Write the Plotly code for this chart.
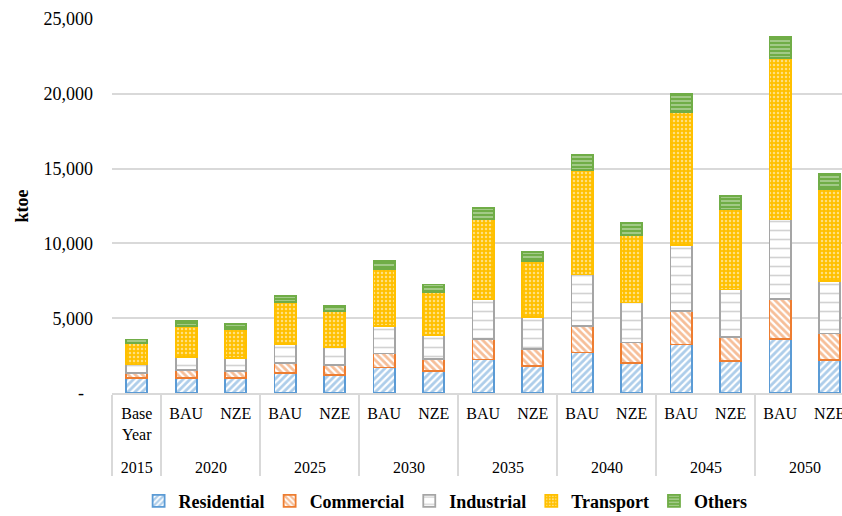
import plotly.graph_objects as go

years = ["2015", "2020", "2020", "2025", "2025", "2030", "2030", "2035", "2035",
         "2040", "2040", "2045", "2045", "2050", "2050"]
scenarios = ["Base<br>Year<br><span style='font-size:3px'>\u00a0</span>", "BAU", "NZE", "BAU", "NZE",
             "BAU", "NZE", "BAU", "NZE", "BAU", "NZE", "BAU", "NZE", "BAU", "NZE"]

residential = [1000, 1000, 1000, 1340, 1190, 1700, 1450, 2240, 1830, 2710, 2010, 3240, 2120, 3590, 2190]
commercial = [340, 520, 450, 670, 670, 940, 820, 1380, 1110, 1790, 1360, 2230, 1630, 2680, 1790]
industrial = [560, 890, 890, 1250, 1220, 1830, 1590, 2640, 2140, 3420, 2680, 4420, 3170, 5380, 3500]
transport = [1450, 2050, 1920, 2830, 2370, 3810, 2860, 5370, 3730, 6980, 4500, 8880, 5350, 10730, 6140]
others = [230, 340, 340, 390, 350, 530, 530, 760, 620, 1000, 790, 1200, 890, 1410, 1000]

y_tickvals = [0, 5000, 10000, 15000, 20000, 25000]
y_ticktext = ["-\u00a0\u00a0", "5,000", "10,000", "15,000", "20,000", "25,000"]

FONT = "Liberation Serif"

# name, values, line colour, pattern shape, pattern fg, pattern bg, size, solidity
series = [
    ("Residential", residential, "#5B9BD5", "/", "#5B9BD5", "white", 5, 0.55),
    ("Commercial", commercial, "#ED7D31", "\\", "#ED7D31", "white", 5, 0.55),
    ("Industrial", industrial, "#A5A5A5", "-", "#A5A5A5", "white", 9, 0.18),
    ("Transport", transport, "#FFC000", ".", "white", "#FFC000", 4, 0.3),
    ("Others", others, "#70AD47", "-", "white", "#70AD47", 4, 0.35),
]

fig = go.Figure()
for name, vals, col, shape, fg, bg, size, sol in series:
    fig.add_trace(go.Bar(
        name=name,
        x=[years, scenarios],
        y=vals,
        marker=dict(
            color=bg,
            line=dict(color=col, width=1.8),
            pattern=dict(shape=shape, fgcolor=fg, bgcolor=bg, size=size, solidity=sol),
        ),
    ))

fig.update_layout(
    barmode="stack",
    bargap=0.57,
    width=842,
    height=516,
    margin=dict(l=112, r=0, t=19, b=123, autoexpand=False),
    plot_bgcolor="white",
    paper_bgcolor="white",
    font=dict(family=FONT, color="black", size=16),
    legend=dict(
        orientation="h",
        xref="paper", yref="paper",
        x=0.457, y=-0.289, xanchor="center", yanchor="middle",
        font=dict(family=FONT, size=18, color="black", weight="bold"),
        traceorder="normal",
    ),
    showlegend=True,
)

fig.update_xaxes(
    type="multicategory",
    range=[-0.5, 14.25],
    automargin=False,
    showline=True,
    linecolor="#D9D9D9",
    linewidth=1.5,
    showdividers=True,
    dividercolor="#D9D9D9",
    dividerwidth=1.5,
    ticklabelstandoff=5,
    tickfont=dict(family=FONT, size=16, color="black"),
    showgrid=False,
)

fig.update_yaxes(
    range=[0, 25000],
    automargin=False,
    tickvals=y_tickvals,
    ticktext=y_ticktext,
    showgrid=True,
    gridcolor="#D9D9D9",
    gridwidth=1.5,
    zeroline=False,
    showline=False,
    ticklabelstandoff=18,
    tickfont=dict(family=FONT, size=18, color="black"),
    title=dict(text="<b>ktoe</b>", font=dict(family=FONT, size=18, color="black"), standoff=10),
)

fig.write_html("out.html", config={"displayModeBar": False},
               post_script="document.body.style.margin='0';")
